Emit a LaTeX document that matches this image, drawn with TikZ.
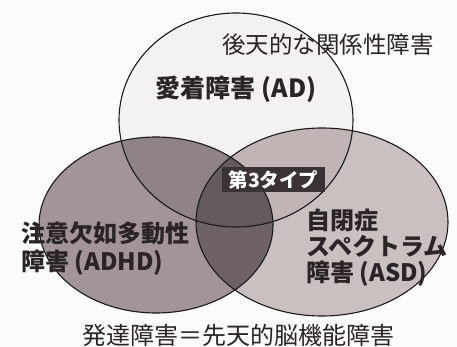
\documentclass[tikz,border=0pt]{standalone}
\usepackage{fontspec}
\newfontfamily\jp{Noto Sans CJK JP}
\definecolor{bgcol}{HTML}{FBFBFA}
\definecolor{tcol}{HTML}{F4F2F0}
\definecolor{lcol}{HTML}{A39597}
\definecolor{rcol}{HTML}{CBC0C0}
\definecolor{ltcol}{HTML}{8F8387}
\definecolor{rtcol}{HTML}{C0B4B4}
\definecolor{lrcol}{HTML}{6E6266}
\definecolor{lrtcol}{HTML}{655A5E}
\definecolor{boxcol}{HTML}{3A3234}
\definecolor{txtcol}{HTML}{2A2426}
\begin{document}
\begin{tikzpicture}[x=1pt,y=-1pt,
  outline/.style={draw=black!90,line width=1.1pt},
  biglabel/.style={inner sep=0pt,text=txtcol,font=\jp\bfseries\fontsize{24}{28}\selectfont},
  smalllabel/.style={inner sep=0pt,text=txtcol,font=\jp\fontsize{23.5}{26}\selectfont},
  tagbox/.style={fill=boxcol,text=white,inner sep=0pt,minimum width=103pt,minimum height=25pt,font=\jp\bfseries\fontsize{19.5}{22}\selectfont}]
\useasboundingbox[fill=bgcol] (0,0) rectangle (457,347);
\def\Tpath{(236,120) ellipse [x radius=117,y radius=107]}
\def\Lpath{(156,225) ellipse [x radius=117,y radius=88]}
\def\Rpath{(322,222) ellipse [x radius=126,y radius=94]}
% base fills
\fill[lcol] \Lpath;
\fill[rcol] \Rpath;
\fill[tcol] \Tpath;
\begin{scope}
  \clip \Tpath;
  \fill[ltcol] \Lpath;
  \fill[rtcol] \Rpath;
\end{scope}
\begin{scope}
  \clip \Lpath;
  \fill[lrcol] \Rpath;
  \begin{scope}
    \clip \Tpath;
    \fill[lrtcol] \Rpath;
  \end{scope}
\end{scope}
% outlines
\draw[outline] \Tpath;
\draw[outline] \Lpath;
\draw[outline] \Rpath;
% labels
\node[smalllabel,anchor=west] (acq) at (222,45) {後天的な関係性障害};
\node[biglabel,font=\jp\bfseries\fontsize{25}{28}\selectfont] (ad) at (236,89) {愛着障害 (AD)};
\node[tagbox] (third) at (273.5,179.5) {第3タイプ};
\node[biglabel,anchor=north west,align=left,font=\jp\bfseries\fontsize{24}{28}\selectfont] (adhd) at (21,221) {注意欠如多動性\\障害 (ADHD)};
\node[biglabel,anchor=north west,align=left,font=\jp\bfseries\fontsize{24}{26}\selectfont] (asd) at (306,209) {自閉症\\スペクトラム\\障害 (ASD)};
\node[smalllabel,font=\jp\fontsize{24}{26}\selectfont] (dev) at (238,335) {発達障害＝先天的脳機能障害};
\end{tikzpicture}
\end{document}
